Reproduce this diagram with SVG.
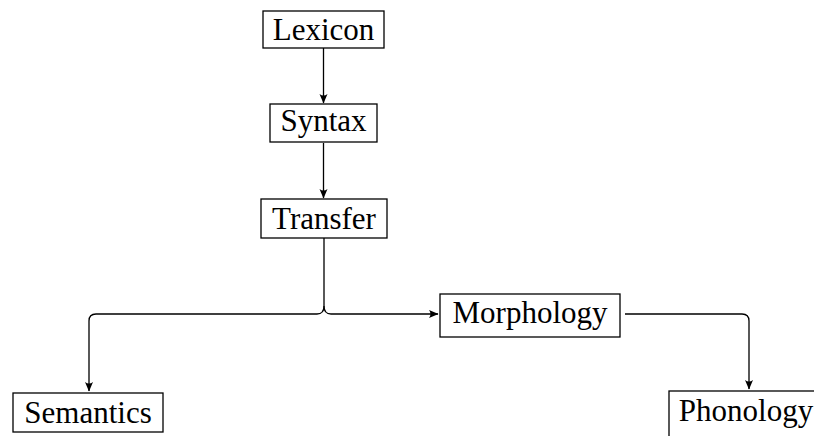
<svg xmlns="http://www.w3.org/2000/svg" width="814" height="436" viewBox="0 0 814 436">
<defs>
<style>
.box{fill:#fff;stroke:#000;stroke-width:1.3}
.lbl{font-family:"Liberation Serif","DejaVu Serif",serif;font-size:31px;text-anchor:middle;fill:#000}
.con{fill:none;stroke:#000;stroke-width:1.3}
</style>
<marker id="ah" markerUnits="userSpaceOnUse" markerWidth="14" markerHeight="12" viewBox="-12 -6 14 12" refX="0" refY="0" orient="auto">
<path d="M0.5,0 L-9,-4 Q-6,0 -9,4 Z" fill="#000"/>
</marker>
</defs>
<g id="connectors">
<path class="con" d="M323.5,48 V103" marker-end="url(#ah)"/>
<path class="con" d="M323.5,143 V198" marker-end="url(#ah)"/>
<path class="con" d="M324,238 V306 Q324,314 317,314 H96 Q89,314 89,321 V391" marker-end="url(#ah)"/>
<path class="con" d="M324,306 Q324,314 331,314 H438" marker-end="url(#ah)"/>
<path class="con" d="M625,314 H742 Q749,314 749,321 V389" marker-end="url(#ah)"/>
</g>
<g id="lexicon"><rect class="box" x="263" y="11" width="121" height="37"/><text class="lbl" x="323.5" y="40">Lexicon</text></g>
<g id="syntax"><rect class="box" x="270" y="104" width="107" height="38"/><text class="lbl" x="323.5" y="131">Syntax</text></g>
<g id="transfer"><rect class="box" x="261" y="199" width="126" height="39"/><text class="lbl" x="324" y="229">Transfer</text></g>
<g id="morphology"><rect class="box" x="440" y="294" width="180" height="43"/><text class="lbl" x="530" y="323">Morphology</text></g>
<g id="semantics"><rect class="box" x="13" y="393" width="150" height="39"/><text class="lbl" x="88" y="423">Semantics</text></g>
<g id="phonology"><rect class="box" x="669" y="391" width="160" height="50"/><text class="lbl" x="746" y="421">Phonology</text></g>
</svg>
